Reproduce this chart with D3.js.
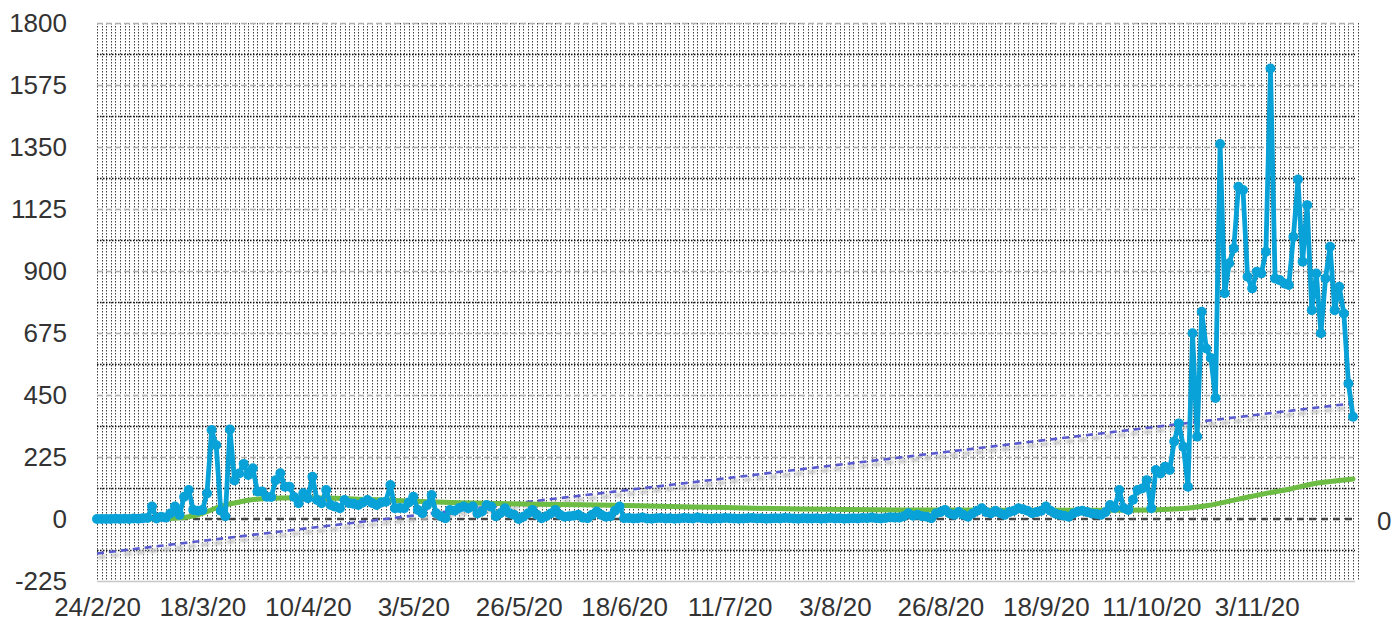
<!DOCTYPE html>
<html>
<head>
<meta charset="utf-8">
<script src="https://cdn.jsdelivr.net/npm/d3@7"></script>
<style>
  html, body { margin: 0; padding: 0; background: #fff; }
  svg { display: block; }
  .tick text { font-family: "Liberation Sans", Arial, Helvetica, sans-serif; font-size: 26px; fill: #333; }
</style>
</head>
<body>
<svg id="chart" width="1392" height="621"></svg>
<script>
// ---------- data ----------
const startLabel = "24/2/20";
const xTickLabels = ["24/2/20","18/3/20","10/4/20","3/5/20","26/5/20","18/6/20","11/7/20","3/8/20","26/8/20","18/9/20","11/10/20","3/11/20"];
const yTickValues = [-225, 0, 225, 450, 675, 900, 1125, 1350, 1575, 1800];
const rightAxisLabel = ["0"];

// daily values (one per day from 24/2/20)
const dailyCases = [
  0,0,0,0,1,0,1,0,2,1,3,4,
  45,2,8,5,20,45,15,81,105,33,30,33,93,323,268,30,10,325,
  140,165,200,160,184,100,100,81,80,141,166,117,117,80,57,93,75,153,69,57,
  105,51,45,39,69,57,55,51,60,69,58,51,60,63,123,39,40,39,60,81,
  33,21,50,87,21,10,3,33,30,40,45,39,45,20,27,51,45,10,21,39,
  21,15,0,8,20,33,15,3,10,20,33,15,8,10,12,15,5,3,15,27,
  15,8,10,30,45,3,
  4,2,3,5,2,1,3,4,2,3, 1,2,4,3,2,5,3,2,1,3, 2,4,3,2,1,2,3,4,2,3,
  1,2,3,2,4,3,2,1,3,2, 2,3,1,2,4,2,3,1,2,3, 2,4,3,5,3,2,4,6,5,
  5,10,21,12,15,10,8,3,20,25, 33,20,15,25,15,8,20,30,39,25,
  20,30,21,15,25,30,39,35,30,21, 25,30,45,30,20,15,12,8,20,27,
  30,25,20,18,15,25,
  51,40,105,40,33,70,105,111,141,39,178,165,190,178,281,347,262,117,
  674,299,752,619,584,439,1361,819,928,982,1206,1194,879,837,897,891,970,1635,
  873,867,855,849,1024,1232,934,1139,758,891,674,873,988,758,843,746,492,371
];

// running average series (read at sample days)
const avgDays   = [0, 12, 18, 20, 22, 24, 26, 28, 30, 33, 38, 43, 50, 57, 65, 72, 79, 90, 100, 113, 130, 153, 175, 200, 220, 230, 235, 242, 249, 255, 260, 266, 270, 274];
const avgValues = [0, 1, 4, 8, 15, 27, 40, 51, 58, 68, 75, 77, 76, 72, 67, 63, 59, 55, 53, 50, 44, 36, 33, 32, 32, 33, 36, 48, 72, 93, 108, 130, 138, 145];

// linear trend end values (first day, last day)
const trendValues = [-125, 420];

(function () {
const svg = d3.select("#chart");
const L = 97, R = 1353, T = 23, B = 581;
const parse = d3.timeParse("%d/%m/%y");
const start = parse(startLabel);
const nDays = dailyCases.length;
const end = d3.timeDay.offset(start, nDays - 1);
const dayDate = i => d3.timeDay.offset(start, i);

const x = d3.scaleTime().domain([start, end]).range([L, R]);
const y = d3.scaleLinear().domain([-225, 1800]).range([B, T]);

const defs = svg.append("defs");
defs.append("filter").attr("id", "blur").append("feGaussianBlur").attr("stdDeviation", 1.6);

// ---------- grid ----------
const grid = svg.append("g");
grid.selectAll("line.vg").data(d3.range(nDays + 1)).join("line")
  .attr("x1", d => Math.round(x(dayDate(d))) + 0.5).attr("x2", d => Math.round(x(dayDate(d))) + 0.5)
  .attr("y1", T).attr("y2", B)
  .attr("stroke", "#1e1e1e").attr("stroke-width", 1)
  .attr("stroke-dasharray", "1.5,1.5").attr("opacity", 0.85);
const minorY = d3.range(-225 + 112.5, 1800, 225);
grid.selectAll("line.hm").data(minorY).join("line")
  .attr("x1", L).attr("x2", R + 2)
  .attr("y1", d => Math.round(y(d)) + 0.5).attr("y2", d => Math.round(y(d)) + 0.5)
  .attr("stroke", "#111").attr("stroke-width", 1.3).attr("stroke-dasharray", "1.5,1.5");
grid.selectAll("line.hM").data(yTickValues.filter(v => v !== 0 && v !== -225)).join("line")
  .attr("x1", L).attr("x2", R + 2)
  .attr("y1", d => Math.round(y(d)) + 0.5).attr("y2", d => Math.round(y(d)) + 0.5)
  .attr("stroke", "#b0b0b0").attr("stroke-width", 1.4).attr("stroke-dasharray", "6,3");
svg.append("line").attr("x1", L).attr("x2", R + 2)
  .attr("y1", B + 0.5).attr("y2", B + 0.5)
  .attr("stroke", "#c8c8c8").attr("stroke-width", 1.5);

// ---------- axes ----------
const yAxis = svg.append("g").attr("transform", `translate(67,0)`)
  .call(d3.axisLeft(y).tickValues(yTickValues).tickSize(0).tickPadding(0).tickFormat(d => String(d)));
yAxis.select(".domain").remove();

const xAxis = svg.append("g").attr("transform", `translate(0,596)`)
  .call(d3.axisBottom(x).tickValues(xTickLabels.map(parse)).tickSize(0).tickPadding(0)
    .tickFormat(d3.timeFormat("%-d/%-m/%y")));
xAxis.select(".domain").remove();
xAxis.selectAll("text").attr("dy", "0.75em");

const yR = d3.scaleLinear().domain([0, 1]).range([y(0), y(0) - 1]);
const rAxis = svg.append("g").attr("transform", `translate(1377,2)`)
  .call(d3.axisRight(yR).tickValues([0]).tickFormat((d, i) => rightAxisLabel[i]).tickSize(0).tickPadding(0));
rAxis.select(".domain").remove();

// ---------- zero line ----------
svg.append("line").attr("x1", L).attr("x2", R)
  .attr("y1", y(0)).attr("y2", y(0))
  .attr("stroke", "#444").attr("stroke-width", 2.6).attr("stroke-dasharray", "7,5");

// ---------- trend line ----------
const trendPts = [[0, trendValues[0]], [nDays - 1, trendValues[1]]];
const tLine = d3.line().x(d => x(dayDate(d[0]))).y(d => y(d[1]));
svg.append("path").datum(trendPts).attr("d", tLine)
  .attr("transform", "translate(1,4)")
  .attr("fill", "none").attr("stroke", "#c4c4c4").attr("stroke-width", 3.5)
  .attr("stroke-dasharray", "8,5").attr("filter", "url(#blur)");
svg.append("path").datum(trendPts).attr("d", tLine)
  .attr("fill", "none").attr("stroke", "#5a5bd0").attr("stroke-width", 2.6)
  .attr("stroke-dasharray", "7,5");

// ---------- average line ----------
const avgPts = avgDays.map((d, i) => [d, avgValues[i]]);
svg.append("path").datum(avgPts)
  .attr("d", d3.line().curve(d3.curveMonotoneX).x(d => x(dayDate(d[0]))).y(d => y(d[1])))
  .attr("fill", "none").attr("stroke", "#6dbd45").attr("stroke-width", 5)
  .attr("stroke-linejoin", "round").attr("stroke-linecap", "round");

// ---------- daily line ----------
const blue = "#08a2d8";
svg.append("path").datum(dailyCases)
  .attr("d", d3.line().x((d, i) => x(dayDate(i))).y(d => y(d)))
  .attr("fill", "none").attr("stroke", blue).attr("stroke-width", 4.8)
  .attr("stroke-linejoin", "round");
svg.append("g").selectAll("circle").data(dailyCases).join("circle")
  .attr("cx", (d, i) => x(dayDate(i))).attr("cy", d => y(d))
  .attr("r", 5).attr("fill", blue);
})();
</script>
</body>
</html>
